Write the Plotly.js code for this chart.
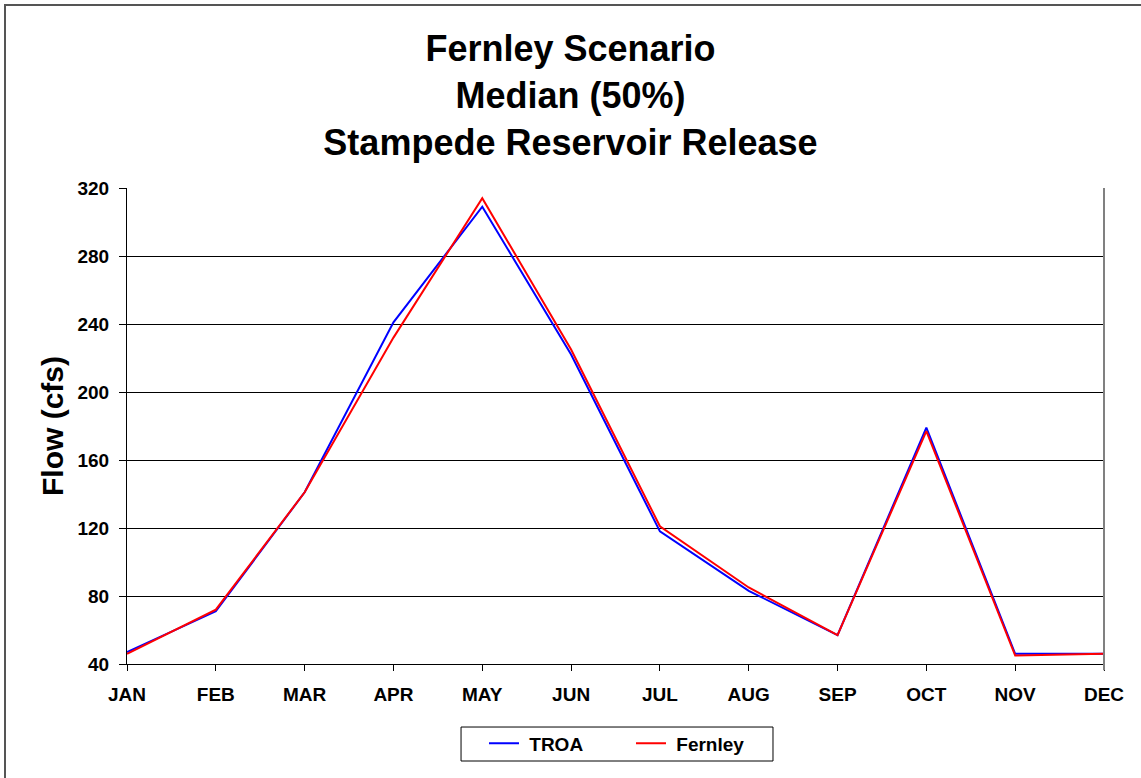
<!DOCTYPE html>
<html>
<head>
<meta charset="utf-8">
<script src="https://cdn.plot.ly/plotly-3.0.1.min.js"></script>
<style>
  html, body { margin: 0; padding: 0; background: #fff; }
  #frame { position: absolute; left: 4px; top: 4px; width: 1150px; height: 790px; border-left: 2px solid #555; border-top: 2px solid #555; box-sizing: border-box; }
  #chart { position: absolute; left: 0; top: 0; width: 1141px; height: 778px; }
</style>
</head>
<body>
<div id="frame"></div>
<div id="chart"></div>
<script>
const months = ["JAN","FEB","MAR","APR","MAY","JUN","JUL","AUG","SEP","OCT","NOV","DEC"];
const troa = [47, 71, 141, 241, 309, 222, 118, 83, 57, 179, 46, 46];
const fernley = [46, 72, 141, 232, 314, 225, 121, 85, 57, 177, 45, 46];
const yTicks = [40, 80, 120, 160, 200, 240, 280, 320];

const xIdx = months.map((m, i) => i);

const traces = [
  { x: xIdx, y: troa, name: "<b> TROA</b>", type: "scatter", mode: "lines",
    line: { color: "#0000FF", width: 2 } },
  { x: xIdx, y: fernley, name: "<b> Fernley</b>", type: "scatter", mode: "lines",
    line: { color: "#FF0000", width: 2 } }
];

const layout = {
  width: 1141, height: 778,
  paper_bgcolor: "rgba(0,0,0,0)",
  plot_bgcolor: "#fff",
  margin: { l: 127, r: 37, t: 188, b: 114 },
  font: { family: "Liberation Sans, Arial, sans-serif", color: "#000" },
  title: {
    text: "<b>Fernley Scenario<br>Median (50%)<br>Stampede Reservoir Release</b>",
    font: { size: 36, color: "#000", family: "Liberation Sans, Arial, sans-serif" },
    x: 0.5, xanchor: "center", xref: "container",
    y: 1 - 61 / 778, yanchor: "top", yref: "container"
  },
  xaxis: {
    range: [0, 11],
    tickmode: "array",
    tickvals: xIdx,
    ticktext: months.map(m => "<b>" + m + "</b>"),
    tickfont: { size: 19, color: "#000" },
    ticks: "outside", ticklen: 6, tickcolor: "#000", tickwidth: 1,
    showgrid: false, zeroline: false,
    showline: true, linecolor: "#000", linewidth: 1,
    ticklabelstandoff: 7,
    fixedrange: true
  },
  yaxis: {
    range: [40, 320],
    tickmode: "array",
    tickvals: yTicks,
    ticktext: yTicks.map(v => "<b>" + v + "</b>"),
    tickfont: { size: 19, color: "#000" },
    ticks: "outside", ticklen: 7, tickcolor: "#000", tickwidth: 1,
    showgrid: true, gridcolor: "#000", gridwidth: 1,
    zeroline: false,
    showline: true, linecolor: "#000", linewidth: 1,
    ticklabelstandoff: 6,
    title: { text: "<b>Flow (cfs)</b>", font: { size: 30, color: "#000" }, standoff: 4 },
    fixedrange: true
  },
  shapes: [
    { type: "line", xref: "paper", yref: "paper", x0: 1, x1: 1, y0: -0.013, y1: 1,
      line: { color: "#808080", width: 2 } },
    { type: "rect", xref: "paper", yref: "paper", x0: 0.3419, x1: 0.6612, y0: -0.1324, y1: -0.2038,
      line: { color: "#000", width: 1 }, fillcolor: "rgba(0,0,0,0)" }
  ],
  showlegend: true,
  legend: {
    orientation: "h",
    x: 0.3654, xanchor: "left", xref: "paper",
    y: -0.1267, yanchor: "top",
    borderwidth: 0, bgcolor: "rgba(0,0,0,0)",
    font: { size: 19, color: "#000" },
    itemwidth: 30,
    entrywidth: 102,
    traceorder: "normal"
  }
};

Plotly.newPlot("chart", traces, layout, { displayModeBar: false, staticPlot: true });
</script>
</body>
</html>
